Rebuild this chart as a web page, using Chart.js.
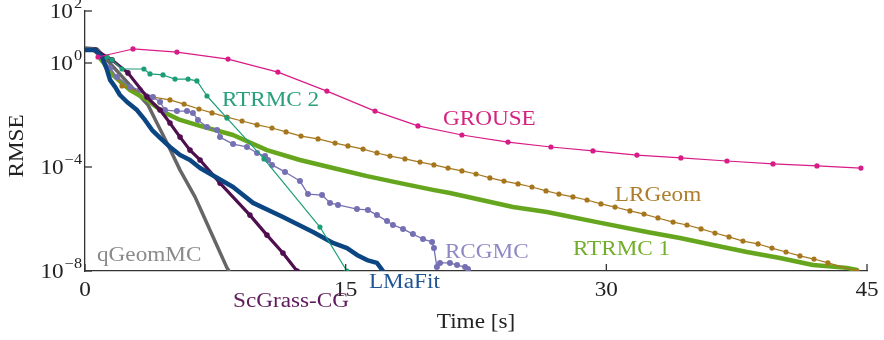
<!DOCTYPE html>
<html>
<head>
<meta charset="utf-8">
<script src="https://cdn.jsdelivr.net/npm/chart.js@4.4.0/dist/chart.umd.min.js"></script>
<style>
  body { margin: 0; background: #fff; }
  #wrap { width: 884px; height: 340px; }
</style>
</head>
<body>
<div id="wrap"><canvas id="rmse-chart" width="884" height="340"></canvas></div>
<script>
// time in seconds, error as log10(RMSE)
const grouseTime = [0.75, 2.76, 5.29, 8.23, 11.10, 13.92, 16.69, 19.16, 21.69, 24.34, 26.81, 29.23, 31.76, 34.29, 36.94, 39.59, 42.12, 44.65];
const grouseLog = [0.23, 0.54, 0.42, 0.15, -0.35, -1.08, -1.85, -2.42, -2.77, -3.04, -3.23, -3.38, -3.54, -3.65, -3.77, -3.88, -3.96, -4.04];

const rtrmc2Time = [1.27, 1.55, 2.13, 3.39, 3.74, 4.49, 5.18, 5.93, 6.44, 7.02, 8.17, 10.30, 13.52, 15.07];
const rtrmc2Log = [0.23, 0.12, -0.23, -0.23, -0.42, -0.46, -0.62, -0.62, -0.69, -1.27, -2.12, -3.69, -6.31, -8.0];

const lrgeomTime = [0.69, 1.44, 2.13, 3.91, 4.89, 5.70, 6.56, 7.31, 8.17, 9.04, 9.90, 10.76, 11.57, 12.43, 13.41, 14.39, 15.13, 16.00, 16.80, 17.55, 18.41, 19.28, 20.08, 20.89, 21.69, 22.50, 23.30, 24.11, 24.92, 25.72, 26.53, 27.27, 28.08, 28.89, 29.69, 30.50, 31.36, 32.17, 32.97, 33.84, 34.64, 35.45, 36.25, 37.06, 37.86, 38.73, 39.53, 40.34, 41.14, 41.95, 42.75, 44.42];
const lrgeomLog = [0.42, -0.19, -0.88, -1.31, -1.42, -1.58, -1.77, -1.92, -2.08, -2.23, -2.38, -2.50, -2.65, -2.81, -2.92, -3.08, -3.19, -3.31, -3.46, -3.58, -3.69, -3.81, -3.92, -4.04, -4.15, -4.27, -4.42, -4.54, -4.65, -4.77, -4.92, -5.04, -5.15, -5.27, -5.42, -5.54, -5.69, -5.81, -5.96, -6.12, -6.23, -6.38, -6.54, -6.69, -6.85, -6.96, -7.12, -7.27, -7.42, -7.54, -7.69, -8.0];

const rtrmc1Time = [0.86, 1.61, 2.59, 3.57, 4.49, 5.47, 6.62, 8.52, 10.47, 12.37, 14.27, 16.23, 18.13, 20.02, 21.00, 24.63, 26.58, 29.46, 32.34, 34.24, 36.14, 38.09, 39.99, 41.89, 43.85, 44.42];
const rtrmc1Log = [0.19, -0.46, -1.04, -1.42, -1.88, -2.19, -2.42, -2.77, -3.35, -3.73, -4.04, -4.35, -4.62, -4.88, -5.00, -5.54, -5.73, -6.12, -6.50, -6.73, -7.00, -7.27, -7.50, -7.77, -7.88, -7.96];

const rcgmcTime = [0.86, 1.44, 1.84, 2.59, 3.16, 3.91, 4.32, 4.60, 5.29, 5.87, 6.21, 6.50, 7.02, 7.60, 7.77, 8.52, 9.32, 9.90, 10.36, 10.53, 10.76, 11.51, 12.37, 12.83, 13.64, 14.10, 14.56, 15.65, 16.28, 16.80, 17.38, 17.72, 18.30, 18.87, 19.45, 19.97, 20.08, 20.25, 20.43, 21.00, 21.41, 21.87, 22.04];
const rcgmcLog = [0.27, -0.19, -0.54, -0.92, -1.04, -1.31, -1.50, -1.81, -1.85, -1.85, -1.92, -2.19, -2.46, -2.58, -2.85, -3.12, -3.23, -3.46, -3.58, -3.73, -3.92, -4.19, -4.54, -5.04, -5.08, -5.38, -5.46, -5.62, -5.65, -5.85, -6.08, -6.23, -6.38, -6.58, -6.77, -6.88, -7.12, -7.85, -7.69, -7.69, -7.77, -7.85, -7.92];

const lmafitTime = [0, 0.58, 0.98, 1.27, 1.44, 1.73, 2.01, 2.42, 2.99, 3.45, 3.86, 4.32, 4.89, 5.47, 6.04, 6.62, 8.52, 9.67, 11.39, 13.12, 14.27, 15.08, 15.65, 16.23, 16.80, 17.15];
const lmafitLog = [0.50, 0.50, 0.23, -0.27, -0.65, -0.92, -1.23, -1.50, -1.81, -2.19, -2.58, -2.88, -3.23, -3.54, -3.73, -4.04, -4.77, -5.38, -5.92, -6.50, -6.92, -7.12, -7.38, -7.58, -7.69, -8.0];

const scgrassTime = [0.58, 1.55, 2.47, 3.57, 4.32, 4.89, 5.47, 6.04, 6.62, 7.77, 9.49, 10.47, 11.39, 12.20];
const scgrassLog = [0.50, 0.12, -0.38, -1.31, -1.81, -2.31, -2.85, -3.35, -3.73, -4.62, -5.85, -6.62, -7.31, -8.0];

const qgeomTime = [0, 0.69, 3.63, 4.14, 4.72, 5.47, 6.33, 6.62, 7.37, 8.17, 8.29];
const qgeomLog = [0.58, 0.54, -1.62, -2.31, -3.08, -4.12, -5.15, -5.58, -6.69, -7.88, -8.0];

const xTicks = [0, 15, 30, 45];
const yTickExps = [2, 0, -4, -8];

const serif = '"Liberation Serif", "DejaVu Serif", serif';
const stretch = 1.16; // Computer Modern is wider than Times

function toPoints(times, logs) {
  return times.map((t, i) => ({ x: t, y: Math.pow(10, logs[i]) }));
}

function series(name, times, logs, color, width, radius) {
  return {
    label: name,
    data: toPoints(times, logs),
    borderColor: color,
    backgroundColor: color,
    borderWidth: width,
    pointRadius: radius,
    pointBorderWidth: 0,
    pointHoverRadius: radius,
    tension: 0,
    borderJoinStyle: 'round',
    borderCapStyle: 'round',
  };
}

// label text, anchor time, anchor log10 value, colour
const seriesLabels = [
  ['qGeomMC', 0.69, -7.42, '#8a8a8a'],
  ['ScGrass-CG', 8.52, -9.19, '#5e1a5c'],
  ['LMaFit', 16.34, -8.46, '#1f5596'],
  ['RCGMC', 20.71, -7.31, '#8e89c6'],
  ['RTRMC 1', 28.08, -7.19, '#72ad2c'],
  ['LRGeom', 30.49, -5.12, '#ad7d2c'],
  ['GROUSE', 20.6, -2.19, '#d4237f'],
  ['RTRMC 2', 7.88, -1.46, '#27a07b'],
];

// draws text widened horizontally; align is 'left' | 'center' | 'right'
function wideText(ctx, txt, x, y, align) {
  const w = ctx.measureText(txt).width * stretch;
  let left = x;
  if (align === 'center') left = x - w / 2;
  if (align === 'right') left = x - w;
  ctx.save();
  ctx.translate(left, y);
  ctx.scale(stretch, 1);
  ctx.textAlign = 'left';
  ctx.fillText(txt, 0, 0);
  ctx.restore();
  return w;
}

const textPlugin = {
  id: 'axisText',
  afterDraw(chart) {
    const ctx = chart.ctx;
    const xs = chart.scales.x;
    const ys = chart.scales.y;
    const area = chart.chartArea;
    ctx.save();
    ctx.strokeStyle = '#333';
    ctx.lineWidth = 1.3;
    ctx.fillStyle = '#222';

    // inward tick marks + labels on x
    ctx.font = '20px ' + serif;
    ctx.textBaseline = 'middle';
    for (const t of xTicks) {
      const px = xs.getPixelForValue(t);
      ctx.beginPath();
      ctx.moveTo(px, area.bottom);
      ctx.lineTo(px, area.bottom - 7);
      ctx.stroke();
      wideText(ctx, String(t), px, area.bottom + 20, 'center');
    }

    // inward tick marks + 10^k labels on y
    ctx.textBaseline = 'alphabetic';
    for (const e of yTickExps) {
      const py = ys.getPixelForValue(Math.pow(10, e));
      ctx.beginPath();
      ctx.moveTo(area.left, py);
      ctx.lineTo(area.left + 7, py);
      ctx.stroke();
      const sup = e < 0 ? '\u2212' + Math.abs(e) : String(e);
      const right = area.left - 3;
      ctx.font = '14px ' + serif;
      const supW = wideText(ctx, sup, right, py - 3, 'right');
      ctx.font = '20px ' + serif;
      wideText(ctx, '10', right - supW - 1, py + 7, 'right');
    }

    // axis titles
    ctx.font = '20px ' + serif;
    ctx.textBaseline = 'middle';
    wideText(ctx, 'Time [s]', (area.left + area.right) / 2, area.bottom + 52, 'center');
    ctx.save();
    ctx.translate(18, (area.top + area.bottom) / 2 + 5);
    ctx.rotate(-Math.PI / 2);
    wideText(ctx, 'RMSE', 0, 0, 'center');
    ctx.restore();

    // inline series names
    for (const [txt, t, e, col] of seriesLabels) {
      ctx.fillStyle = col;
      wideText(ctx, txt, xs.getPixelForValue(t), ys.getPixelForValue(Math.pow(10, e)), 'left');
    }
    ctx.restore();
  },
};

new Chart(document.getElementById('rmse-chart'), {
  type: 'line',
  data: {
    datasets: [
      series('GROUSE', grouseTime, grouseLog, '#d81b87', 1.2, 2.6),
      series('RTRMC 2', rtrmc2Time, rtrmc2Log, '#1b9e77', 1.2, 2.6),
      series('LMaFit', lmafitTime, lmafitLog, '#0b4683', 4.5, 0),
      series('ScGrass-CG', scgrassTime, scgrassLog, '#4f0f4f', 3.2, 2.8),
      series('RCGMC', rcgmcTime, rcgmcLog, '#7570b3', 1.3, 3),
      series('LRGeom', lrgeomTime, lrgeomLog, '#a6761d', 1.2, 2.6),
      series('RTRMC 1', rtrmc1Time, rtrmc1Log, '#66a61e', 4.5, 0),
      series('qGeomMC', qgeomTime, qgeomLog, '#666666', 3.5, 0),
    ],
  },
  options: {
    responsive: false,
    animation: false,
    events: [],
    layout: { padding: { top: 11, right: 17, left: 0, bottom: 0 } },
    plugins: { legend: { display: false }, tooltip: { enabled: false } },
    scales: {
      x: {
        type: 'linear',
        min: 0,
        max: 45,
        ticks: { display: false },
        grid: { display: false },
        border: { color: '#333', width: 1.3 },
        afterFit(scale) { scale.height = 69; },
      },
      y: {
        type: 'logarithmic',
        min: 1e-8,
        max: 1e2,
        ticks: { display: false },
        grid: { display: false },
        border: { color: '#333', width: 1.3 },
        afterFit(scale) { scale.width = 85; },
      },
    },
  },
  plugins: [textPlugin],
});
</script>
</body>
</html>
